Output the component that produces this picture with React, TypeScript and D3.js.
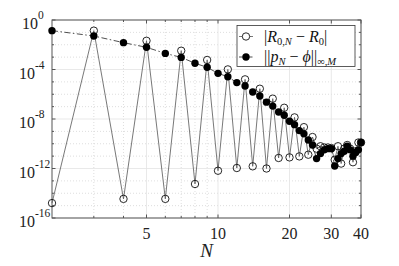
import React from "react";
import * as d3 from "d3";

// N = 2..40
const orders = d3.range(2, 41);

// |R_{0,N} - R_0|
const residualErr = [
  1.6e-15, 1.38e-1, 3.5e-15, 2.1e-2, 3.5e-15, 3.3e-3, 5.6e-14, 5.9e-4, 6.6e-13, 1.02e-4,
  1.1e-12, 1.6e-5, 1.5e-12, 2.8e-6, 1.0e-12, 4.4e-7, 7.1e-12, 8.1e-8, 7.9e-12, 1.35e-8,
  9.5e-12, 2.2e-9, 1.3e-11, 3.5e-10, 4.0e-11, 6.3e-11, 5.0e-11, 5.0e-11, 4.5e-11, 5.0e-12,
  6.3e-11, 2.5e-12, 4.0e-11, 7.9e-11, 4.0e-11, 3.2e-12, 2.5e-11, 1.26e-10, 1.26e-10,
];

// ||p_N - phi||_{inf,M}
const polyErr = [
  1.38e-1, 5.1e-2, 1.48e-2, 6.2e-3, 2.0e-3, 9.5e-4, 3.2e-4, 1.5e-4, 4.9e-5, 2.6e-5,
  8.7e-6, 4.7e-6, 1.5e-6, 7.2e-7, 2.3e-7, 1.1e-7, 3.7e-8, 2.0e-8, 6.5e-9, 3.5e-9,
  1.15e-9, 6.3e-10, 2.0e-10, 7.9e-11, 6.3e-12, 1.6e-11, 3.2e-11, 4.0e-11, 4.0e-11, 1.6e-12,
  6.3e-12, 1.6e-11, 2.5e-11, 6.3e-11, 3.2e-11, 1.0e-11, 2.0e-11, 3.2e-11, 1.26e-10,
];

const xTicks = [5, 10, 20, 30, 40];
const xMinor = [3, 4, 6, 7, 8, 9];
const yTickExp = [0, -4, -8, -12, -16];
const yMinorExp = d3.range(-15, 0).filter((e) => e % 4 !== 0);

const W = 399;
const H = 266;
const left = 52, right = 361, top = 20, bottom = 218;
const serif = "'Liberation Serif', 'Times New Roman', Times, serif";

export default function App() {
  const x = d3.scaleLog().domain([2, 40]).range([left, right]);
  const y = d3.scaleLog().domain([1e-16, 1]).range([bottom, top]);

  const line = d3
    .line<number>()
    .x((_, i) => x(orders[i]))
    .y((d) => y(d));

  const axisCol = "#555";
  const dashDot = "6,2.5,1.5,2.5";

  return (
    <svg
      width={W}
      height={H}
      style={{ position: "absolute", left: 0, top: 0, background: "#fff", fontFamily: serif }}
    >
      {/* grid */}
      {xMinor.map((t) => (
        <line key={"xm" + t} x1={x(t)} x2={x(t)} y1={top} y2={bottom}
          stroke="#d6d6d6" strokeWidth={0.8} strokeDasharray="1,2" />
      ))}
      {yMinorExp.map((e) => (
        <line key={"ym" + e} x1={left} x2={right} y1={y(10 ** e)} y2={y(10 ** e)}
          stroke="#d6d6d6" strokeWidth={0.8} strokeDasharray="1,2" />
      ))}
      {xTicks.map((t) => (
        <line key={"xg" + t} x1={x(t)} x2={x(t)} y1={top} y2={bottom}
          stroke="#e3e3e3" strokeWidth={0.8} />
      ))}
      {yTickExp.map((e) => (
        <line key={"yg" + e} x1={left} x2={right} y1={y(10 ** e)} y2={y(10 ** e)}
          stroke="#e3e3e3" strokeWidth={0.8} />
      ))}

      {/* ticks */}
      {xTicks.map((t) => (
        <g key={"xt" + t}>
          <line x1={x(t)} x2={x(t)} y1={bottom} y2={bottom - 3.5} stroke={axisCol} />
          <line x1={x(t)} x2={x(t)} y1={top} y2={top + 3.5} stroke={axisCol} />
          <text x={x(t)} y={239} textAnchor="middle" fontSize={16} fill="#222">{t}</text>
        </g>
      ))}
      {xMinor.map((t) => (
        <g key={"xmt" + t}>
          <line x1={x(t)} x2={x(t)} y1={bottom} y2={bottom - 2} stroke={axisCol} />
          <line x1={x(t)} x2={x(t)} y1={top} y2={top + 2} stroke={axisCol} />
        </g>
      ))}
      {yTickExp.map((e) => (
        <g key={"yt" + e}>
          <line x1={left} x2={left + 3.5} y1={y(10 ** e)} y2={y(10 ** e)} stroke={axisCol} />
          <line x1={right} x2={right - 3.5} y1={y(10 ** e)} y2={y(10 ** e)} stroke={axisCol} />
          <text x={e === 0 ? 38 : 35} y={y(10 ** e) + 9} textAnchor="end" fontSize={16} fill="#222">10</text>
          <text x={e === 0 ? 38 : 35} y={y(10 ** e) - 1} fontSize={11.5} fill="#222">{e === 0 ? "0" : e}</text>
        </g>
      ))}
      {yMinorExp.map((e) => (
        <g key={"ymt" + e}>
          <line x1={left} x2={left + 2} y1={y(10 ** e)} y2={y(10 ** e)} stroke={axisCol} />
          <line x1={right} x2={right - 2} y1={y(10 ** e)} y2={y(10 ** e)} stroke={axisCol} />
        </g>
      ))}

      <rect x={left} y={top} width={right - left} height={bottom - top}
        fill="none" stroke={axisCol} strokeWidth={1} />

      <text x={(left + right) / 2} y={257} textAnchor="middle" fontSize={19}
        fontStyle="italic" fill="#222">N</text>

      {/* series */}
      <path d={line(residualErr) ?? ""} fill="none" stroke="#555" strokeWidth={0.8} />
      <path d={line(polyErr) ?? ""} fill="none" stroke="#222" strokeWidth={0.8}
        strokeDasharray={dashDot} />
      {residualErr.map((v, i) => (
        <circle key={"o" + i} cx={x(orders[i])} cy={y(v)} r={3.7}
          fill="none" stroke="#111" strokeWidth={0.9} />
      ))}
      {polyErr.map((v, i) => (
        <circle key={"f" + i} cx={x(orders[i])} cy={y(v)} r={3.7} fill="#000" />
      ))}

      {/* legend */}
      <g>
        <rect x={237} y={25.5} width={118} height={41} fill="#fff" stroke="#333" strokeWidth={0.8} />
        <line x1={239} x2={253} y1={36.5} y2={36.5} stroke="#555" strokeWidth={0.8} />
        <circle cx={246} cy={36.5} r={3.7} fill="#fff" stroke="#111" strokeWidth={0.9} />
        <line x1={239} x2={253} y1={57} y2={57} stroke="#222" strokeWidth={0.8} strokeDasharray="4,2,1.5,2" />
        <circle cx={246} cy={57} r={3.7} fill="#000" />
        <text x={264} y={41.5} fontSize={16} fill="#111">
          <tspan>|</tspan>
          <tspan fontStyle="italic">R</tspan>
          <tspan fontSize={10.5} dy={3}>0,</tspan>
          <tspan fontSize={10.5} fontStyle="italic">N</tspan>
          <tspan dy={-3}> − </tspan>
          <tspan fontStyle="italic">R</tspan>
          <tspan fontSize={10.5} dy={3}>0</tspan>
          <tspan dy={-3}>|</tspan>
        </text>
        <text x={264} y={62} fontSize={16} fill="#111">
          <tspan>||</tspan>
          <tspan fontStyle="italic">p</tspan>
          <tspan fontSize={10.5} fontStyle="italic" dy={3}>N</tspan>
          <tspan dy={-3}> − </tspan>
          <tspan fontStyle="italic">ϕ</tspan>
          <tspan>||</tspan>
          <tspan fontSize={10.5} dy={3}>∞,</tspan>
          <tspan fontSize={10.5} fontStyle="italic">M</tspan>
        </text>
      </g>
    </svg>
  );
}
